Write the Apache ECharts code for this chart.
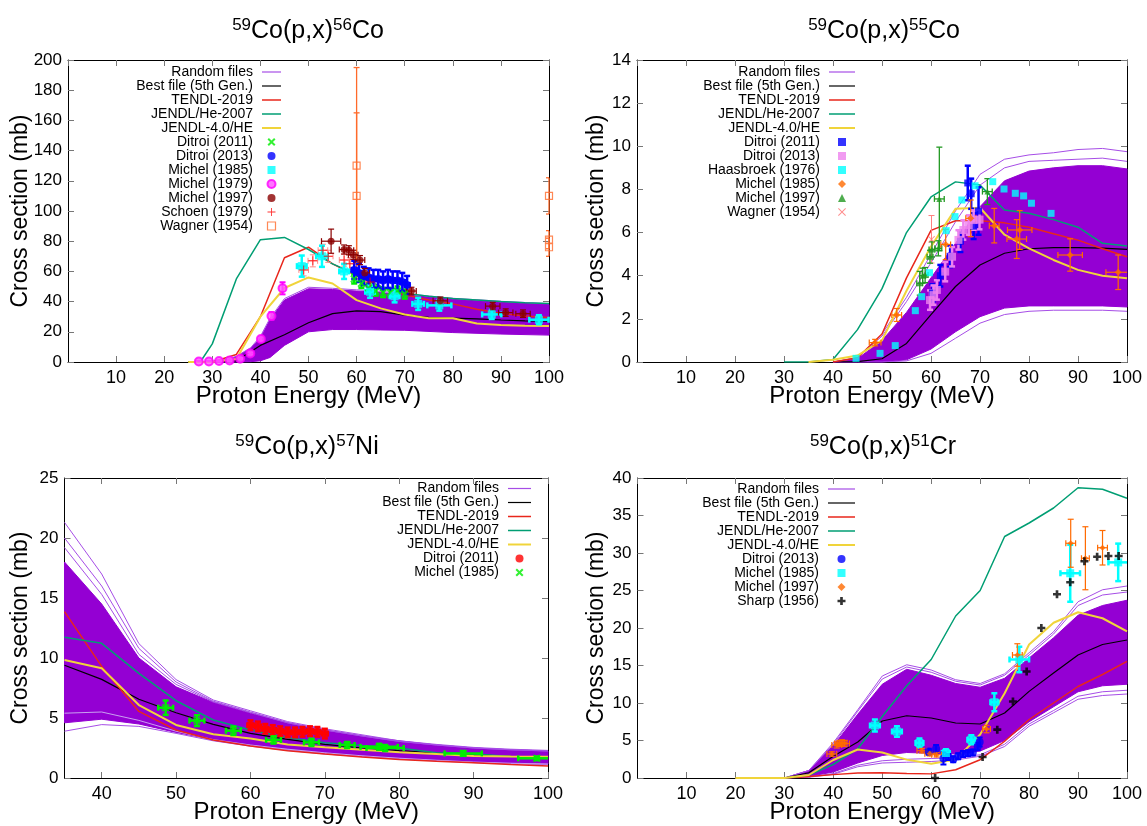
<!DOCTYPE html>
<html><head><meta charset="utf-8">
<script src="https://cdn.jsdelivr.net/npm/echarts@6/dist/echarts.min.js"></script>
<style>html,body{margin:0;padding:0;background:#fff}#c{width:1147px;height:826px}</style>
</head><body><div id="c"></div>
<script>
// ---------------- Panel 1: 59Co(p,x)56Co ----------------
const p1_bandE  = [27, 30, 33, 35, 38, 40, 42, 45, 50, 55, 60, 65, 70, 80, 90, 100];
const p1_bandLo = [0, 0, 0, 0, 0.2, 0.8, 3, 11, 20, 21.5, 21.5, 21.2, 21, 19.5, 18.5, 17.8];
const p1_bandHi = [0, 0.3, 1.5, 3.5, 9, 16, 28, 41, 48.5, 48, 47, 46, 44.5, 41.5, 39.5, 38];
const p1_rand1  = [0, 0.3, 1.6, 3.8, 9.5, 17, 29, 42, 49.5, 48.8, 47.8, 46.8, 45.2, 42.2, 40.2, 38.6];
const p1_E      = [25, 30, 35, 40, 45, 50, 55, 60, 65, 70, 75, 80, 85, 90, 95, 100];
const p1_best   = [0, 0, 0.8, 11, 18, 26, 32, 33.8, 33.3, 31, 29.5, 29, 28.5, 27.8, 27.3, 27];
const p1_tendl  = [0, 0, 5, 30, 69, 76, 65, 57, 50, 44.5, 41, 38.5, 35, 32.2, 30.5, 29.5];
const p1_jheE   = [25, 27.5, 30, 35, 40, 45, 50, 55, 60, 65, 70, 75, 80, 85, 90, 95, 100];
const p1_jhe    = [0, 0, 12, 55, 81, 82.5, 74.5, 65, 58, 50, 45.5, 43.5, 42, 41, 40, 39.3, 38.8];
const p1_j4     = [0, 0, 2, 30, 49, 56, 52, 41, 35.5, 31.5, 29, 29, 25.5, 24.5, 24, 23.8];

const p1_dit11E = [59.5, 61, 62.5, 64, 65.5, 67, 68.5, 70];
const p1_dit11S = [55, 52, 49, 47, 46, 46, 47, 45];
const p1_dit11dS = [3, 3, 3, 3, 3, 3, 3, 3];
const p1_dit13E = [59.5, 60.5, 61.5, 62.5, 63.5, 64.5, 65.5, 66.5, 67.5, 68.5, 69.5, 70.5];
const p1_dit13S = [61, 59, 57, 56, 55, 55, 54, 55, 54, 54, 53, 51];
const p1_dit13dS = [6, 6, 6, 6, 6, 6, 6, 6, 6, 6, 6, 6];
const p1_dit13dE = [0.5, 0.5, 0.5, 0.5, 0.5, 0.5, 0.5, 0.5, 0.5, 0.5, 0.5, 0.5];
const p1_mi85E = [48.6, 52.8, 57.4, 62.8, 67.9, 72.8, 77.2, 88.1, 97.9];
const p1_mi85S = [63.5, 70, 60, 46.5, 43.5, 38.5, 37.5, 31.5, 28];
const p1_mi85dS = [7, 7, 5, 4, 4, 4, 3.5, 3, 3];
const p1_mi85dE = [1, 1.2, 1, 1, 1, 1.2, 2.5, 2, 2];
const p1_mi79E = [27.2, 29.3, 31.4, 33.6, 35.8, 37.9, 40.1, 42.3, 44.6];
const p1_mi79S = [0.3, 0.3, 0.7, 1, 2.2, 5.7, 15.2, 30.5, 48.8];
const p1_mi79dS = [0.5, 0.5, 0.5, 0.5, 0.5, 0.8, 1.5, 2.5, 4];
const p1_mi97E = [54.7, 57.4, 58.4, 59.3, 60.7, 61.7, 71.4, 77.4, 88.3, 91, 94.6];
const p1_mi97S = [80, 74.5, 74, 71, 67.5, 59, 47, 40.5, 37, 32.7, 32];
const p1_mi97dS = [8, 3, 3, 3, 3, 3, 2.5, 2.5, 2.5, 2.5, 2.5];
const p1_mi97dE = [2, 1, 1, 1, 1, 1, 1, 1.5, 1.5, 1.5, 1.5];
const p1_schE = [49, 50.9, 53, 54.1, 57.4, 58.6, 62.8];
const p1_schS = [61, 67, 74, 70, 67.5, 65, 53];
const p1_schdS = [4, 4, 4, 4, 4, 4, 4];
const p1_schdE = [1, 1, 1, 1, 1, 1, 1];
const p1_wagE = [60, 60, 100, 100, 100];
const p1_wagS = [130, 110, 110, 81, 76];
const p1_wagdS = [65, 55, 12, 6, 6];

// ---------------- Panel 2: 59Co(p,x)55Co ----------------
const p2_bandE  = [40, 45, 50, 55, 60, 65, 70, 75, 80, 85, 90, 95, 100];
const p2_bandLo = [0, 0, 0, 0.1, 0.6, 1.4, 2.1, 2.5, 2.6, 2.6, 2.6, 2.6, 2.55];
const p2_bandHi = [0, 0.15, 1.0, 2.3, 3.9, 5.5, 7.2, 8.4, 8.85, 9.0, 9.1, 9.1, 8.95];
const p2_rand1  = [0, 0.2, 1.3, 3.0, 5.0, 7.0, 8.7, 9.4, 9.6, 9.7, 9.85, 9.9, 9.75];
const p2_rand2  = [0, 0.2, 1.2, 2.8, 4.6, 6.5, 8.2, 9.0, 9.3, 9.35, 9.4, 9.45, 9.3];
const p2_rand3  = [0, 0, 0, 0.05, 0.4, 1.1, 1.8, 2.2, 2.35, 2.4, 2.4, 2.4, 2.35];
const p2_jheE   = [30, 35, 40, 45, 50, 55, 60, 65, 70, 75, 80, 85, 90, 95, 100];
const p2_jhe    = [0, 0, 0.12, 1.5, 3.4, 6.0, 7.65, 8.35, 8.2, 7.05, 6.9, 6.6, 6.25, 5.5, 5.38];
const p2_E      = [40, 45, 50, 55, 60, 65, 70, 75, 80, 85, 90, 95, 100];
const p2_tendl  = [0, 0.2, 1.3, 3.9, 6.1, 6.55, 6.55, 6.45, 6.25, 5.95, 5.65, 5.25, 4.88];
const p2_best   = [0, 0.02, 0.15, 0.86, 2.2, 3.5, 4.5, 5.04, 5.25, 5.3, 5.3, 5.28, 5.22];
const p2_j4E    = [35, 40, 45, 50, 55, 60, 65, 70, 75, 80, 85, 90, 95, 100];
const p2_j4     = [0, 0.1, 0.3, 1.0, 3.3, 5.35, 7.1, 7.15, 5.9, 5.27, 4.73, 4.27, 4.0, 3.88];

const p2_dit11E = [60.3, 61.9, 63.9, 66.0, 67.5, 68.2, 68.7, 69.7];
const p2_dit11S = [3.2, 4.0, 4.9, 5.6, 8.3, 7.8, 6.3, 7.0];
const p2_dit11dS = [0.4, 0.5, 0.5, 0.5, 0.8, 0.7, 0.6, 1.1];
const p2_dit13E = [59.8, 60.5, 61.2, 62.9, 64.3, 65.6, 66.6, 67.7, 68.7, 69.9];
const p2_dit13S = [2.87, 3.1, 3.34, 4.19, 4.88, 5.66, 6.12, 6.35, 6.58, 6.6];
const p2_dit13dS = [0.45, 0.45, 0.45, 0.45, 0.45, 0.45, 0.45, 0.45, 0.45, 0.45];
const p2_haaE = [44.7, 49.6, 52.7, 56.8, 58.1, 59.7, 63.1, 64.9, 66.3, 69, 72.6, 74.9, 77.2, 78.9, 80.5, 84.5];
const p2_haaS = [0.17, 0.4, 0.76, 2.38, 3.03, 4.14, 6.09, 6.74, 7.51, 8.17, 8.36, 8.02, 7.82, 7.7, 7.36, 6.89];
const p2_mi85E = [48.6, 53.0, 63.0, 68.1, 72.9, 77.5, 78.1, 88.4, 98.2];
const p2_mi85S = [0.9, 2.18, 5.45, 6.66, 6.32, 5.7, 6.12, 4.96, 4.16];
const p2_mi85dS = [0.15, 0.3, 0.7, 0.85, 0.8, 0.9, 0.9, 0.75, 0.8];
const p2_mi85dE = [1.2, 1, 1, 1, 1, 2, 2.5, 2.5, 2.5];
const p2_mi97E = [57.7, 58.3, 58.8, 59.8, 60.2, 61.5, 61.7, 71.5];
const p2_mi97S = [3.65, 4.0, 4.03, 4.88, 5.22, 5.27, 7.56, 7.9];
const p2_mi97dS = [0.55, 0.35, 0.35, 0.3, 0.35, 0.35, 2.4, 0.6];
const p2_mi97dE = [0.6, 0.6, 0.6, 0.6, 0.6, 0.7, 1.0, 1.0];
const p2_wagE = [60.1];
const p2_wagS = [5.69];
const p2_wagdS = [1.1];

// ---------------- Panel 3: 59Co(p,x)57Ni ----------------
const p3_xTicks = [40, 50, 60, 70, 80, 90, 100];
const p3_E      = [35, 40, 45, 50, 55, 60, 65, 70, 75, 80, 85, 90, 95, 100];
const p3_bandLo = [4.6, 4.9, 4.5, 3.8, 3.2, 2.75, 2.4, 2.1, 1.85, 1.65, 1.48, 1.33, 1.23, 1.17];
const p3_bandHi = [18.0, 14.5, 10.0, 7.6, 6.3, 5.4, 4.6, 4.0, 3.5, 3.1, 2.75, 2.5, 2.35, 2.25];
const p3_rand1  = [21.3, 17.0, 11.2, 8.2, 6.5, 5.6, 4.7, 4.1, 3.6, 3.1, 2.8, 2.55, 2.4, 2.3];
const p3_rand2  = [20.0, 16.0, 10.8, 8.0, 6.4, 5.5, 4.6, 4.0, 3.5, 3.05, 2.75, 2.5, 2.35, 2.25];
const p3_rand3  = [19.2, 15.3, 10.3, 7.8, 6.35, 5.45, 4.6, 4.0, 3.5, 3.05, 2.75, 2.5, 2.35, 2.25];
const p3_rand4  = [5.4, 5.5, 4.8, 3.9, 3.2, 2.75, 2.4, 2.1, 1.85, 1.65, 1.48, 1.33, 1.23, 1.17];
const p3_rand5  = [3.9, 4.45, 4.3, 3.72, 3.1, 2.65, 2.3, 2.0, 1.78, 1.58, 1.43, 1.28, 1.18, 1.13];
const p3_tendl  = [13.86, 9.3, 5.55, 4.0, 3.17, 2.67, 2.28, 2.0, 1.75, 1.55, 1.4, 1.28, 1.12, 1.0];
const p3_jhe    = [11.72, 11.22, 8.72, 6.44, 4.83, 4.0, 3.35, 2.94, 2.7, 2.5, 2.1, 2.0, 1.8, 1.64];
const p3_j4     = [9.83, 9.14, 6.08, 4.42, 3.64, 3.3, 2.8, 2.56, 2.35, 2.14, 2.0, 1.83, 1.8, 1.78];
const p3_best   = [9.4, 8.22, 6.56, 5.44, 4.47, 3.72, 3.22, 2.8, 2.5, 2.28, 2.08, 1.92, 1.8, 1.72];

const p3_dit11E = [60, 61, 62, 63, 64, 65, 66, 67, 68, 69, 70];
const p3_dit11S = [4.4, 4.3, 4.1, 4.0, 3.9, 3.8, 3.8, 3.85, 3.9, 3.85, 3.7];
const p3_dit11dS = [0.4, 0.4, 0.4, 0.4, 0.4, 0.4, 0.4, 0.4, 0.4, 0.4, 0.4];
const p3_dit11dE = [0.4, 0.4, 0.4, 0.4, 0.4, 0.4, 0.4, 0.4, 0.4, 0.4, 0.4];
const p3_mi85E = [48.6, 52.8, 57.7, 63.1, 68.2, 73, 77.3, 78.1, 88.6, 98.5];
const p3_mi85S = [5.86, 4.78, 3.94, 3.17, 2.97, 2.75, 2.6, 2.5, 2.05, 1.64];
const p3_mi85dS = [0.6, 0.45, 0.35, 0.3, 0.3, 0.25, 0.25, 0.25, 0.2, 0.15];
const p3_mi85dE = [1, 1, 1, 1, 1, 1, 2.5, 2.5, 2.5, 2.5];

// ---------------- Panel 4: 59Co(p,x)51Cr ----------------
const p4_E      = [20, 30, 35, 40, 45, 50, 55, 60, 65, 70, 75, 80, 85, 90, 95, 100];
const p4_bandLo = [0, 0, 0.2, 0.8, 2.0, 3.0, 3.4, 3.3, 3.2, 3.6, 5.0, 7.5, 9.5, 11.5, 12.3, 12.5];
const p4_bandHi = [0, 0, 1.0, 4.3, 8.5, 12.5, 14.5, 13.7, 12.6, 12.1, 13.3, 16.0, 18.7, 21.7, 23.0, 23.7];
const p4_rand1  = [0, 0, 1.0, 4.7, 9.1, 13.6, 15.1, 14.4, 13.1, 12.6, 13.9, 16.7, 19.5, 23.5, 25.1, 25.6];
const p4_rand2  = [0, 0, 1.0, 4.5, 8.9, 13.2, 14.8, 14.1, 12.9, 12.4, 13.7, 16.4, 19.2, 23.0, 24.4, 24.8];
const p4_rand3  = [0, 0, 0.1, 0.5, 1.5, 2.0, 2.1, 2.2, 2.4, 2.9, 4.2, 6.9, 8.7, 10.5, 11.0, 11.2];
const p4_rand4  = [0, 0, 0.15, 0.6, 1.7, 2.3, 2.5, 2.6, 2.7, 3.1, 4.5, 7.2, 9.0, 10.9, 11.5, 11.7];
const p4_best   = [0, 0, 0.7, 2.9, 4.8, 7.6, 8.3, 8.0, 7.33, 7.2, 8.67, 11.55, 14, 16.4, 17.8, 18.4];
const p4_tendl  = [0, 0, 0.2, 0.45, 0.67, 0.7, 0.6, 0.55, 1.1, 2.44, 4.9, 7.8, 10, 12.2, 13.8, 15.55];
const p4_jhe    = [0, 0, 0.4, 1.8, 3.9, 8.2, 12.3, 15.8, 21.6, 25, 32.2, 34, 36, 38.7, 38.5, 37.3];
const p4_j4     = [0, 0, 0.4, 2.4, 3.8, 3.4, 2.45, 1.9, 2.45, 5.8, 11.3, 17.8, 20.7, 22.1, 21.3, 19.55];

const p4_dit13E = [59.5, 61, 62.5, 63.5, 64.5, 65.5, 66.5, 67.5, 68.5, 69.5, 69.9];
const p4_dit13S = [3.5, 3.9, 2.6, 2.8, 2.5, 2.9, 3.2, 3.3, 3.4, 4.2, 4.8];
const p4_dit13dS = [0.4, 0.5, 0.8, 0.4, 0.4, 0.4, 0.4, 0.4, 0.4, 0.5, 0.6];
const p4_mi85E = [48.5, 53, 57.6, 63, 68.2, 72.9, 78, 88.4, 98.2];
const p4_mi85S = [7.0, 6.2, 4.67, 3.33, 5.1, 10.1, 15.8, 27.3, 28.75];
const p4_mi85dS = [0.8, 0.7, 0.6, 0.5, 0.6, 1.2, 1.7, 3.8, 2.5];
const p4_mi85dE = [1, 1, 0.8, 0.8, 0.8, 0.8, 2, 2, 2];
const p4_mi97E = [39.7, 40.7, 41.3, 41.8, 42.3, 58.1, 59.7, 61.1, 71.3, 77.6, 88.5, 91.5, 95.0];
const p4_mi97S = [3.2, 4.4, 4.6, 4.7, 4.6, 3.64, 3.24, 3.1, 6.53, 16.4, 31.3, 29.3, 30.7];
const p4_mi97dS = [0.3, 0.4, 0.4, 0.4, 0.4, 0.3, 0.3, 0.3, 0.5, 1.5, 3.2, 4.2, 2.3];
const p4_mi97dE = [1, 1, 1, 1, 1, 1, 1, 1, 0.8, 1, 1, 0.8, 1];
const p4_shE = [60.8, 70.5, 73.5, 76.7, 79.5, 82.5, 85.7, 88.4, 91.3, 93.9, 96.2, 98.3];
const p4_shS = [0, 2.8, 6.44, 10.2, 14.2, 20, 24.5, 26.1, 28.9, 29.5, 29.6, 29.6];

// ---------------- styling ----------------
const FONT = 'Liberation Sans, Arial, Helvetica, sans-serif';
const COL = { band: '#9400d3', rand: '#a64de6', best: '#000000', tendl: '#e8261b', jhe: '#009e73', j4: '#f0d43a' };
const SYM = {
  plusThin: 'path://M4,0 L5,0 L5,4 L9,4 L9,5 L5,5 L5,9 L4,9 L4,5 L0,5 L0,4 L4,4 Z',
  plusBold: 'path://M3,0 L6,0 L6,3 L9,3 L9,6 L6,6 L6,9 L3,9 L3,6 L0,6 L0,3 L3,3 Z',
  xBold: 'path://M0,1.6 L1.6,0 L4.5,2.9 L7.4,0 L9,1.6 L6.1,4.5 L9,7.4 L7.4,9 L4.5,6.1 L1.6,9 L0,7.4 L2.9,4.5 Z',
  xThin: 'path://M0,0.8 L0.8,0 L4.5,3.7 L8.2,0 L9,0.8 L5.3,4.5 L9,8.2 L8.2,9 L4.5,5.3 L0.8,9 L0,8.2 L3.7,4.5 Z',
  square: 'path://M0,0 L10,0 L10,10 L0,10 Z',
  diamond: 'path://M5,0 L10,5 L5,10 L0,5 Z',
  triangle: 'path://M5,0 L10,10 L0,10 Z'
};
const GRIDS = [
  { left: 68, top: 60, width: 481, height: 302 },
  { left: 637, top: 60, width: 490, height: 302 },
  { left: 64.5, top: 478, width: 483.5, height: 300 },
  { left: 637.5, top: 478, width: 489.5, height: 300 }
];
const AXES = [
  { xmin: 0, xmax: 100, xint: 10, ymin: 0, ymax: 200, yint: 20, yGap: 36 },
  { xmin: 0, xmax: 100, xint: 10, ymin: 0, ymax: 14, yint: 2, yGap: 28.5 },
  { xmin: 35, xmax: 100, xint: 5, ymin: 0, ymax: 25, yint: 5, yGap: 32, xCustom: p3_xTicks },
  { xmin: 0, xmax: 100, xint: 10, ymin: 0, ymax: 40, yint: 5, yGap: 29 }
];
const TITLES = [
  { a: '59', b: 'Co(p,x)', c: '56', d: 'Co', x: 308, y: 17 },
  { a: '59', b: 'Co(p,x)', c: '55', d: 'Co', x: 884, y: 17 },
  { a: '59', b: 'Co(p,x)', c: '57', d: 'Ni', x: 307, y: 433 },
  { a: '59', b: 'Co(p,x)', c: '51', d: 'Cr', x: 883, y: 433 }
];

const xAxis = [], yAxis = [];
AXES.forEach((a, gi) => {
  const line = { show: true, onZero: false, lineStyle: { color: '#000', width: 1 } };
  const tick = { inside: true, length: 6, lineStyle: { color: '#777', width: 1 } };
  const xt = Object.assign({}, tick), xl = { fontSize: 18, color: '#000', margin: 7, fontFamily: FONT, showMinLabel: false };
  if (a.xCustom) { xt.customValues = a.xCustom; xl.customValues = a.xCustom; xl.showMinLabel = true; }
  xAxis.push({ gridIndex: gi, type: 'value', min: a.xmin, max: a.xmax, interval: a.xint, position: 'bottom',
    axisLine: line, axisTick: xt, splitLine: { show: false }, axisLabel: xl,
    name: 'Proton Energy (MeV)', nameLocation: 'middle', nameGap: 22, nameMoveOverlap: false,
    nameTextStyle: { fontSize: 24, color: '#000', fontFamily: FONT, verticalAlign: 'top' } });
  xAxis.push({ gridIndex: gi, type: 'value', min: a.xmin, max: a.xmax, interval: a.xint, position: 'top',
    axisLine: line, axisTick: xt, splitLine: { show: false }, axisLabel: { show: false } });
  yAxis.push({ gridIndex: gi, type: 'value', min: a.ymin, max: a.ymax, interval: a.yint, position: 'left',
    axisLine: line, axisTick: tick, splitLine: { show: false },
    axisLabel: { fontSize: 17, color: '#000', margin: 6, fontFamily: FONT },
    name: 'Cross section (mb)', nameLocation: 'middle', nameGap: a.yGap, nameMoveOverlap: false,
    nameTextStyle: { fontSize: 23, color: '#000', fontFamily: FONT } });
  yAxis.push({ gridIndex: gi, type: 'value', min: a.ymin, max: a.ymax, interval: a.yint, position: 'right',
    axisLine: line, axisTick: tick, splitLine: { show: false }, axisLabel: { show: false } });
});

const series = [];
const legendIcons = {};
function zip(xs, ys) { return xs.map((x, i) => [x, ys[i]]); }
function lineS(gi, name, xs, ys, color, width, z) {
  series.push({ type: 'line', name: name, xAxisIndex: 2 * gi, yAxisIndex: 2 * gi, data: zip(xs, ys),
    symbol: 'none', showSymbol: false, lineStyle: { color: color, width: width }, itemStyle: { color: color },
    z: z || 3, silent: true, clip: true });
  if (!legendIcons[name]) legendIcons[name] = { line: Math.max(1.2, width) };
}
function bandS(gi, xs, lo, hi) {
  series.push({ type: 'custom', name: 'band' + gi, xAxisIndex: 2 * gi, yAxisIndex: 2 * gi, silent: true, z: 2,
    data: xs.map((x, i) => [x, lo[i], hi[i]]), encode: { x: 0, y: [1, 2] },
    renderItem: function (params, api) {
      if (params.dataIndexInside !== 0) return;
      const n = params.dataInsideLength, pts = [];
      for (let i = 0; i < n; i++) pts.push(api.coord([api.value(0, i), api.value(2, i)]));
      for (let i = n - 1; i >= 0; i--) pts.push(api.coord([api.value(0, i), api.value(1, i)]));
      return { type: 'polygon', shape: { points: pts }, style: { fill: COL.band, stroke: COL.band, lineWidth: 1 } };
    } });
}
function errS(gi, xs, ys, dxs, dys, color, width) {
  series.push({ type: 'custom', name: 'err', xAxisIndex: 2 * gi, yAxisIndex: 2 * gi, silent: true, z: 5,
    data: xs.map((x, i) => [x, ys[i], dxs ? dxs[i] : 0, dys ? dys[i] : 0]), encode: { x: 0, y: 1 },
    renderItem: function (params, api) {
      const cs = params.coordSys;
      const cx = v => Math.max(cs.x, Math.min(cs.x + cs.width, v));
      const cy = v => Math.max(cs.y, Math.min(cs.y + cs.height, v));
      const x = api.value(0), y = api.value(1), dx = api.value(2), dy = api.value(3);
      const st = { stroke: color, lineWidth: width };
      const ch = [], cap = 3;
      if (dy > 0) {
        const a = api.coord([x, y - dy]), b = api.coord([x, y + dy]);
        ch.push({ type: 'line', shape: { x1: a[0], y1: cy(a[1]), x2: b[0], y2: cy(b[1]) }, style: st });
        [a, b].forEach(p => { if (p[1] >= cs.y && p[1] <= cs.y + cs.height)
          ch.push({ type: 'line', shape: { x1: cx(p[0] - cap), y1: p[1], x2: cx(p[0] + cap), y2: p[1] }, style: st }); });
      }
      if (dx > 0) {
        const a = api.coord([x - dx, y]), b = api.coord([x + dx, y]);
        ch.push({ type: 'line', shape: { x1: cx(a[0]), y1: a[1], x2: cx(b[0]), y2: b[1] }, style: st });
        [a, b].forEach(p => { if (p[0] >= cs.x && p[0] <= cs.x + cs.width)
          ch.push({ type: 'line', shape: { x1: p[0], y1: p[1] - cap, x2: p[0], y2: p[1] + cap }, style: st }); });
      }
      return { type: 'group', children: ch };
    } });
}
function ptS(gi, name, xs, ys, symbol, size, color, border) {
  const it = { color: color };
  if (border) { it.color = border.fill; it.borderColor = border.stroke; it.borderWidth = border.width; }
  series.push({ type: 'scatter', name: name, xAxisIndex: 2 * gi, yAxisIndex: 2 * gi, data: zip(xs, ys),
    symbol: symbol, symbolSize: size, itemStyle: it, z: 6, silent: true });
  const icon = symbol === 'rect' ? SYM.square : symbol === 'diamond' ? SYM.diamond : symbol === 'triangle' ? SYM.triangle : symbol;
  legendIcons[name] = { icon: icon, itemStyle: { borderWidth: border ? border.width : 0 } };
}

// ---- panel 1 series ----
lineS(0, 'Random files#0', p1_bandE, p1_rand1, COL.rand, 1, 2);
bandS(0, p1_bandE, p1_bandLo, p1_bandHi);
lineS(0, 'Best file (5th Gen.)#0', p1_E, p1_best, COL.best, 1.2);
lineS(0, 'TENDL-2019#0', p1_E, p1_tendl, COL.tendl, 1.5);
lineS(0, 'JENDL/He-2007#0', p1_jheE, p1_jhe, COL.jhe, 1.5);
lineS(0, 'JENDL-4.0/HE#0', p1_E, p1_j4, COL.j4, 2);
errS(0, p1_wagE, p1_wagS, null, p1_wagdS, '#ff6a2a', 1.3);
errS(0, p1_schE, p1_schS, p1_schdE, p1_schdS, '#ff8a8a', 1);
errS(0, p1_mi79E, p1_mi79S, null, p1_mi79dS, '#ff00ff', 2);
errS(0, p1_dit11E, p1_dit11S, null, p1_dit11dS, '#00ee00', 2.5);
errS(0, p1_dit13E, p1_dit13S, p1_dit13dE, p1_dit13dS, '#0000ff', 2.5);
errS(0, p1_mi85E, p1_mi85S, p1_mi85dE, p1_mi85dS, '#00ffff', 2.5);
errS(0, p1_mi97E, p1_mi97S, p1_mi97dE, p1_mi97dS, '#8b0000', 1.2);
ptS(0, 'Ditroi (2011)#0', p1_dit11E, p1_dit11S, SYM.xBold, 8, '#00ee00');
ptS(0, 'Ditroi (2013)#0', p1_dit13E, p1_dit13S, 'circle', 8, '#0000ff');
ptS(0, 'Michel (1985)#0', p1_mi85E, p1_mi85S, 'rect', 8, '#00ffff');
ptS(0, 'Michel (1979)#0', p1_mi79E, p1_mi79S, 'circle', 8, '#ff00ff', { fill: '#ff55ff', stroke: '#ff00ff', width: 2 });
ptS(0, 'Michel (1997)#0', p1_mi97E, p1_mi97S, 'circle', 7, '#8b0000');
ptS(0, 'Schoen (1979)#0', p1_schE, p1_schS, SYM.plusThin, 9, '#ff0000');
ptS(0, 'Wagner (1954)#0', p1_wagE, p1_wagS, 'rect', 7, '#ff6a2a', { fill: 'rgba(255,255,255,0)', stroke: '#ff6a2a', width: 1.2 });

// ---- panel 2 series ----
lineS(1, 'Random files#1', p2_bandE, p2_rand1, COL.rand, 1, 2);
lineS(1, 'Random files#1', p2_bandE, p2_rand2, COL.rand, 1, 2);
lineS(1, 'Random files#1', p2_bandE, p2_rand3, COL.rand, 1, 2);
bandS(1, p2_bandE, p2_bandLo, p2_bandHi);
lineS(1, 'Best file (5th Gen.)#1', p2_E, p2_best, COL.best, 1.2);
lineS(1, 'TENDL-2019#1', p2_E, p2_tendl, COL.tendl, 1.5);
lineS(1, 'JENDL/He-2007#1', p2_jheE, p2_jhe, COL.jhe, 1.5);
lineS(1, 'JENDL-4.0/HE#1', p2_j4E, p2_j4, COL.j4, 2);
errS(1, p2_wagE, p2_wagS, null, p2_wagdS, '#ff8080', 1);
errS(1, p2_mi97E, p2_mi97S, p2_mi97dE, p2_mi97dS, '#229922', 1.3);
errS(1, p2_dit11E, p2_dit11S, null, p2_dit11dS, '#0000ff', 2.5);
errS(1, p2_dit13E, p2_dit13S, null, p2_dit13dS, '#ee82ee', 2.5);
errS(1, p2_mi85E, p2_mi85S, p2_mi85dE, p2_mi85dS, '#ff6a00', 1.2);
ptS(1, 'Ditroi (2011)#1', p2_dit11E, p2_dit11S, 'rect', 7, '#0000ff');
ptS(1, 'Ditroi (2013)#1', p2_dit13E, p2_dit13S, 'rect', 8, '#ee82ee');
ptS(1, 'Haasbroek (1976)#1', p2_haaE, p2_haaS, 'rect', 7, '#00ffff');
ptS(1, 'Michel (1985)#1', p2_mi85E, p2_mi85S, 'diamond', 7, '#ff6a00');
ptS(1, 'Michel (1997)#1', p2_mi97E, p2_mi97S, 'triangle', 6, '#229922');
ptS(1, 'Wagner (1954)#1', p2_wagE, p2_wagS, SYM.xThin, 7, '#ff7070');

// ---- panel 3 series ----
lineS(2, 'Random files#2', p3_E, p3_rand1, COL.rand, 1, 2);
lineS(2, 'Random files#2', p3_E, p3_rand2, COL.rand, 1, 2);
lineS(2, 'Random files#2', p3_E, p3_rand3, COL.rand, 1, 2);
lineS(2, 'Random files#2', p3_E, p3_rand5, COL.rand, 1, 2);
bandS(2, p3_E, p3_bandLo, p3_bandHi);
lineS(2, 'Random files#2', p3_E, p3_rand4, '#c9a0f0', 1, 2.5);
lineS(2, 'Best file (5th Gen.)#2', p3_E, p3_best, COL.best, 1.2);
lineS(2, 'TENDL-2019#2', p3_E, p3_tendl, COL.tendl, 1.5);
lineS(2, 'JENDL/He-2007#2', p3_E, p3_jhe, COL.jhe, 1.5);
lineS(2, 'JENDL-4.0/HE#2', p3_E, p3_j4, COL.j4, 2);
errS(2, p3_dit11E, p3_dit11S, p3_dit11dE, p3_dit11dS, '#ff0000', 2.5);
errS(2, p3_mi85E, p3_mi85S, p3_mi85dE, p3_mi85dS, '#00ee00', 2.5);
ptS(2, 'Ditroi (2011)#2', p3_dit11E, p3_dit11S, 'circle', 8, '#ff0000');
ptS(2, 'Michel (1985)#2', p3_mi85E, p3_mi85S, SYM.xBold, 8, '#00ee00');

// ---- panel 4 series ----
lineS(3, 'Random files#3', p4_E, p4_rand1, COL.rand, 1, 2);
lineS(3, 'Random files#3', p4_E, p4_rand2, COL.rand, 1, 2);
lineS(3, 'Random files#3', p4_E, p4_rand3, COL.rand, 1, 2);
lineS(3, 'Random files#3', p4_E, p4_rand4, COL.rand, 1, 2);
bandS(3, p4_E, p4_bandLo, p4_bandHi);
lineS(3, 'Best file (5th Gen.)#3', p4_E, p4_best, COL.best, 1.2);
lineS(3, 'TENDL-2019#3', p4_E, p4_tendl, COL.tendl, 1.5);
lineS(3, 'JENDL/He-2007#3', p4_E, p4_jhe, COL.jhe, 1.5);
lineS(3, 'JENDL-4.0/HE#3', p4_E, p4_j4, COL.j4, 2);
errS(3, p4_mi85E, p4_mi85S, p4_mi85dE, p4_mi85dS, '#00ffff', 2.5);
errS(3, p4_dit13E, p4_dit13S, null, p4_dit13dS, '#0000ff', 2);
errS(3, p4_mi97E, p4_mi97S, p4_mi97dE, p4_mi97dS, '#ff6a00', 1.2);
ptS(3, 'Ditroi (2013)#3', p4_dit13E, p4_dit13S, 'circle', 8, '#0000ff');
ptS(3, 'Michel (1985)#3', p4_mi85E, p4_mi85S, 'rect', 8, '#00ffff');
ptS(3, 'Michel (1997)#3', p4_mi97E, p4_mi97S, 'diamond', 6, '#ff6a00');
ptS(3, 'Sharp (1956)#3', p4_shE, p4_shS, SYM.plusBold, 8, '#000000');

const MODELS = ['Random files', 'Best file (5th Gen.)', 'TENDL-2019', 'JENDL/He-2007', 'JENDL-4.0/HE'];
const LEG = [
  { items: ['Ditroi (2011)', 'Ditroi (2013)', 'Michel (1985)', 'Michel (1979)', 'Michel (1997)', 'Schoen (1979)', 'Wagner (1954)'], right: 866, top: 65, w: 19, lh: 11.5 },
  { items: ['Ditroi (2011)', 'Ditroi (2013)', 'Haasbroek (1976)', 'Michel (1985)', 'Michel (1997)', 'Wagner (1954)'], right: 292, top: 65, w: 26, lh: 13.8 },
  { items: ['Ditroi (2011)', 'Michel (1985)'], right: 616, top: 481.5, w: 23, lh: 13.5 },
  { items: ['Ditroi (2013)', 'Michel (1985)', 'Michel (1997)', 'Sharp (1956)'], right: 292, top: 482, w: 27, lh: 13.9 }
];
const legend = LEG.map((L, gi) => ({
  orient: 'vertical', align: 'right', right: L.right, top: L.top, itemGap: 0, itemWidth: L.w, itemHeight: 8,
  selectedMode: false, padding: 0, symbolKeepAspect: true,
  data: MODELS.concat(L.items).map(n => {
    const key = n + '#' + gi, info = legendIcons[key] || {};
    if (info.line) return { name: key, icon: 'path://M0,0 L' + L.w + ',0 L' + L.w + ',' + info.line + ' L0,' + info.line + ' Z', itemStyle: { borderWidth: 0 } };
    return { name: key, icon: info.icon, itemStyle: info.itemStyle };
  }),
  formatter: n => n.split('#')[0],
  textStyle: { fontSize: 14, color: '#000', fontFamily: FONT, lineHeight: L.lh, padding: [0, 4, 0, 0] }
}));

const title = TITLES.map(t => ({
  text: '{s|' + t.a + '}{m|' + t.b + '}{s|' + t.c + '}{m|' + t.d + '}',
  left: t.x, top: t.y, textAlign: 'center', padding: 0,
  textStyle: { fontWeight: 'normal', rich: {
    s: { fontSize: 17, fontFamily: FONT, fontWeight: 'normal', color: '#000', verticalAlign: 'top', lineHeight: 20 },
    m: { fontSize: 25, fontFamily: FONT, fontWeight: 'normal', color: '#000', lineHeight: 28 } } }
}));

const chart = echarts.init(document.getElementById('c'), null, { renderer: 'canvas' });
chart.setOption({
  animation: false,
  backgroundColor: '#fff',
  textStyle: { fontFamily: FONT },
  title: title,
  legend: legend,
  grid: GRIDS.map(g => Object.assign({ containLabel: false }, g)),
  xAxis: xAxis,
  yAxis: yAxis,
  series: series
});
</script></body></html>
